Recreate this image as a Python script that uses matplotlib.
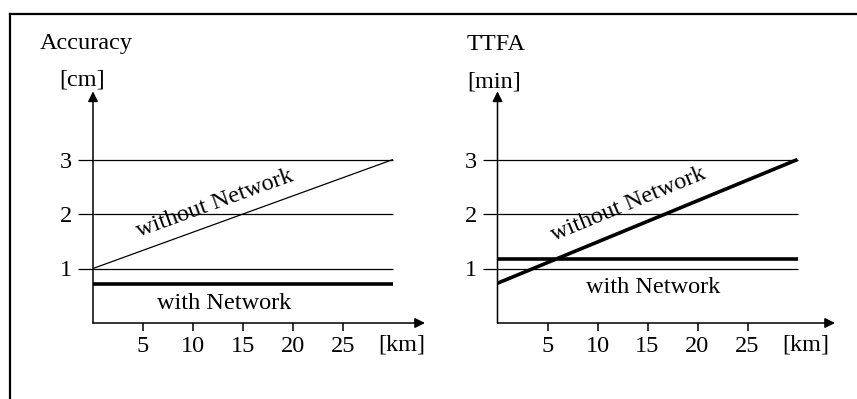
import math
import matplotlib
matplotlib.use("Agg")
import matplotlib.pyplot as plt
from matplotlib.lines import Line2D

plt.rcParams['font.family'] = ['Liberation Serif', 'DejaVu Serif']

# ---- data ----
x_range = [0, 30]                  # km
x_ticks = [5, 10, 15, 20, 25]
y_ticks = [1, 2, 3]
acc_without = [1.0, 3.0]           # cm, start/end
acc_with = [0.72, 0.72]
ttfa_without = [0.73, 3.0]         # min
ttfa_with = [1.17, 1.17]

titles = ["Accuracy", "TTFA"]
units = ["[cm]", "[min]"]
x_unit = "[km]"
lbl_without = "without Network"
lbl_with = "with Network"

W, H = 857, 399
FS = 17.5
fig = plt.figure(figsize=(W / 100, H / 100), dpi=100)


def px(x, y):
    return x / W, 1 - y / H


def make_panel(left_px, right_px, without, with_, lw_without, txt_without, txt_with,
               title, unit, title_xy, unit_xy):
    bottom_px = 323
    ytop = 4.25
    ppu = 54.5
    top_px = bottom_px - ytop * ppu
    xmax = (right_px - left_px) / 10.0
    ax = fig.add_axes([left_px / W, 1 - bottom_px / H, (right_px - left_px) / W,
                       (bottom_px - top_px) / H])
    ax.set_xlim(0, xmax)
    ax.set_ylim(0, ytop)
    for s in ax.spines.values():
        s.set_visible(False)
    ax.patch.set_visible(False)
    # axes arrows
    ax.annotate("", xy=(xmax, 0), xytext=(0, 0),
                arrowprops=dict(arrowstyle='-|>', lw=1.1, color='black',
                                mutation_scale=15, shrinkA=0, shrinkB=0),
                annotation_clip=False)
    ax.annotate("", xy=(0, ytop), xytext=(0, 0),
                arrowprops=dict(arrowstyle='-|>', lw=1.1, color='black',
                                mutation_scale=15, shrinkA=0, shrinkB=0),
                annotation_clip=False)
    # ticks
    ax.set_xticks(x_ticks)
    ax.set_xticklabels([str(t) for t in x_ticks])
    ax.set_yticks(y_ticks)
    ax.set_yticklabels([str(t) for t in y_ticks])
    ax.tick_params(axis='x', direction='out', length=5.5, width=1.1, pad=4,
                   labelsize=FS)
    ax.tick_params(axis='y', direction='out', length=11, width=0.9, pad=4,
                   labelsize=FS)
    # grid lines
    for yv in y_ticks:
        ax.plot(x_range, [yv, yv], color='black', lw=0.9, solid_capstyle='butt')
    # series
    ax.plot(x_range, without, color='black', lw=lw_without, solid_capstyle='butt')
    ax.plot(x_range, with_, color='black', lw=2.6, solid_capstyle='butt')
    ax.text(28.5, -0.40, x_unit, fontsize=FS, ha='left', va='center',
            clip_on=False)
    ang = math.degrees(math.atan2(without[1] - without[0], x_range[1] - x_range[0]))
    ax.text(txt_without[0], txt_without[1], lbl_without, fontsize=FS, ha='center',
            va='center', rotation=ang, transform_rotates_text=True,
            rotation_mode='anchor')
    ax.text(txt_with[0], txt_with[1], lbl_with, fontsize=FS, ha='center', va='center')
    fig.text(*px(*title_xy), title, fontsize=FS, ha='left', va='center')
    fig.text(*px(*unit_xy), unit, fontsize=FS, ha='left', va='center')
    return ax


make_panel(93, 425, acc_without, acc_with, 0.9, (12.2, 2.2), (13.1, 0.35),
           titles[0], units[0], (40, 43), (59, 80))
make_panel(497.5, 835, ttfa_without, ttfa_with, 2.6, (13.1, 2.17), (15.6, 0.66),
           titles[1], units[1], (467, 45), (467, 82))

# frame
fig.add_artist(Line2D([10 / W, 1], [1 - 14 / H, 1 - 14 / H], color='black', lw=1.6,
                      transform=fig.transFigure))
fig.add_artist(Line2D([10 / W, 10 / W], [0, 1 - 14 / H], color='black', lw=1.6,
                      transform=fig.transFigure))

fig.savefig("out.png", dpi=100, facecolor='white')
